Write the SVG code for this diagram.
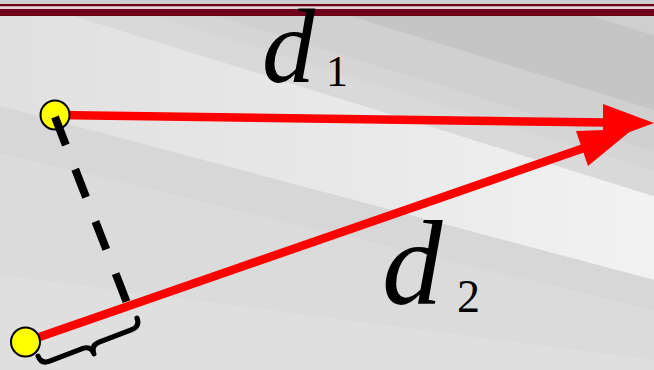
<svg xmlns="http://www.w3.org/2000/svg" width="654" height="370" viewBox="0 0 654 370">
  <defs>
    <style>
      .red { stroke: #ff0000; stroke-width: 8.5; fill: none; }
      .head { fill: #ff0000; stroke: none; }
      .pt { fill: #ffff00; stroke: #000000; stroke-width: 2; }
      .dash { stroke: #000000; stroke-width: 8; stroke-dasharray: 30 26; fill: none; }
      .brace { stroke: #000000; stroke-width: 5; fill: none; stroke-linecap: round; stroke-linejoin: round; }
      .d { font-family: "Liberation Serif", "Times New Roman", serif; font-style: italic; fill: #000000; }
      .sub { font-family: "Liberation Serif", "Times New Roman", serif; fill: #000000; }
    </style>
    <linearGradient id="lightband" x1="0" y1="0" x2="1" y2="0">
      <stop offset="0" stop-color="#e0e0e0"/>
      <stop offset="0.5" stop-color="#e8e8e8"/>
      <stop offset="1" stop-color="#f2f2f2"/>
    </linearGradient>
  </defs>
  <g id="background">
    <rect x="0" y="0" width="654" height="370" fill="#d9d9d9"/>
    <polygon points="0,-7 654,196 654,280 0,106" fill="url(#lightband)"/>
    <polygon points="0,-7 654,196 654,171 0,-32" fill="#d9d9d9"/>
    <polygon points="0,-32 654,171 654,152 0,-51" fill="#d5d5d5"/>
    <polygon points="0,-51 654,152 654,110 0,-92" fill="#d0d0d0"/>
    <polygon points="0,-92 654,110 654,35 0,-168" fill="#c5c5c5"/>
    <polygon points="0,-168 654,35 654,0 0,0" fill="#cfcfcf"/>
    <polygon points="0,106 654,280 654,310 0,153" fill="#d7d7d7"/>
    <polygon points="0,153 654,310 654,360 0,275" fill="#dbdbdb"/>
    <polygon points="0,275 654,360 654,370 0,370" fill="#dfdfdf"/>
    <rect x="0" y="0" width="654" height="4" fill="#cfcfcf"/>
    <rect x="0" y="4" width="654" height="2.5" fill="#6e0019"/>
    <rect x="0" y="6.5" width="654" height="2.5" fill="#e2d4d8"/>
    <rect x="0" y="9" width="654" height="7" fill="#6e0019"/>
  </g>
  <g id="connectors">
    <line id="d1-line" class="red" x1="55" y1="115" x2="606" y2="122.5"/>
    <polygon id="d1-head" class="head" points="603,104 654,123 603,142"/>
    <line id="d2-line" class="red" x1="25" y1="342" x2="584" y2="148"/>
    <polygon id="d2-head" class="head" points="576,131 633,129 588,166"/>
  </g>
  <g id="point-top">
    <circle class="pt" cx="55" cy="115" r="14.5"/>
  </g>
  <g id="point-bottom">
    <circle class="pt" cx="25.5" cy="342" r="14.5"/>
  </g>
  <g id="perpendicular">
    <line class="dash" x1="55" y1="117" x2="127" y2="303"/>
  </g>
  <g id="brace">
    <path class="brace" transform="translate(38,356) rotate(-21)" d="M0,0 Q0,9 9,9 L44,9 Q53,9 53,18 Q53,9 62,9 L97,9 Q106,9 106,0"/>
  </g>
  <g id="label-d1">
    <text class="d" x="262" y="82" font-size="106">d</text>
    <text class="sub" x="326" y="86" font-size="44">1</text>
  </g>
  <g id="label-d2">
    <text class="d" x="382" y="304" font-size="121">d</text>
    <text class="sub" x="457" y="312" font-size="46">2</text>
  </g>
</svg>
